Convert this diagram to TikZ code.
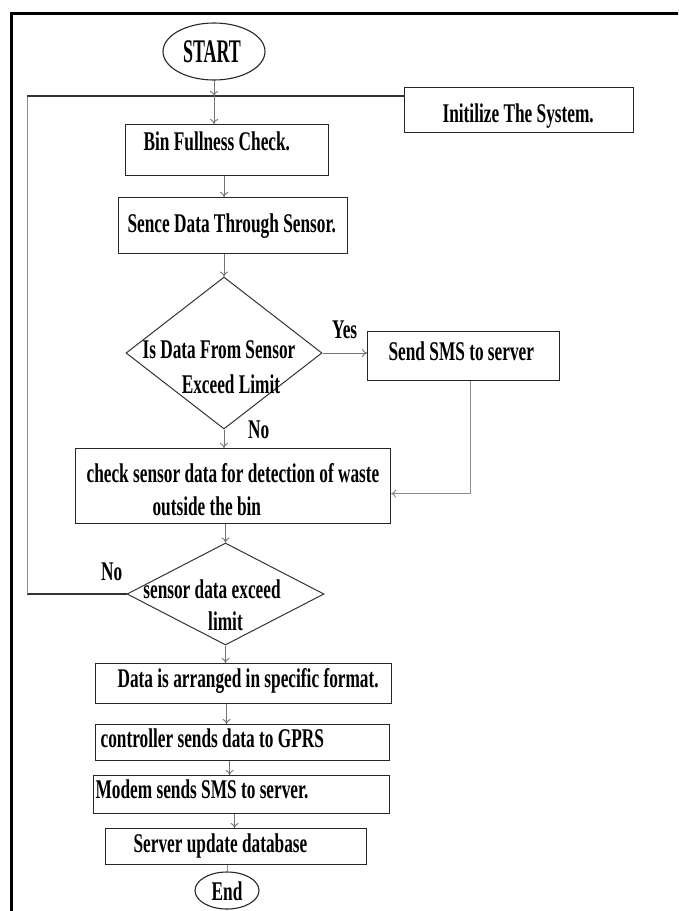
\documentclass[tikz,border=0pt]{standalone}
\usepackage{fontspec}
\newfontfamily\flowfont{Liberation Serif}[FakeStretch=0.64]
\usetikzlibrary{shapes.geometric,arrows.meta,calc}
\tikzset{
  ffont/.style={font=\flowfont\bfseries\fontsize{27}{33}\selectfont},
  boxnode/.style={draw=black!85, line width=1.2pt, anchor=north west, inner sep=0pt, ffont, text=black},
  termnode/.style={ellipse, draw=black!85, line width=1.1pt, inner sep=0pt, text height=0pt, text depth=0pt, ffont, text=black},
  decnode/.style={diamond, draw=black!80, line width=1pt, inner sep=0pt, text height=0pt, text depth=0pt, ffont, text=black},
  lbl/.style={anchor=base west, inner sep=0pt, ffont, text=black},
  conn/.style={draw=black!55, line width=0.9pt, -{To[length=5pt,width=8pt]}},
  plainline/.style={draw=black!80, line width=1.1pt},
  greyline/.style={draw=black!45, line width=1pt},
}
\begin{document}
\begin{tikzpicture}[x=1pt,y=-1pt]
\useasboundingbox (0,0) rectangle (678,911);
\clip (0,0) rectangle (678,911);
% outer frame
\draw[line width=3pt] (11,930) -- (11,13.5) -- (700,13.5);

% terminals
\node[termnode, minimum width=102pt, minimum height=57pt] (start) at (214,51.5)
  {\makebox[0pt]{\raisebox{-10.5pt}{\hspace*{-4pt}\scalebox{0.85}[1]{\fontsize{33}{36}\selectfont START}}}};
\node[termnode, minimum width=64pt, minimum height=37pt] (end) at (227,890.5)
  {\makebox[0pt]{\raisebox{-9.5pt}{End}}};

% process boxes
\node[boxnode, text height=35pt, text depth=10pt] (init) at (404,87)
  {\makebox[229pt][l]{\hspace*{38pt}Initilize The System.}};
\node[boxnode, text height=26pt, text depth=25pt] (bin) at (125,124)
  {\makebox[203pt][l]{\hspace*{18pt}Bin Fullness Check.}};
\node[boxnode, text height=35pt, text depth=21pt] (sence) at (118,197)
  {\makebox[229pt][l]{\hspace*{9pt}Sence Data Through Sensor.}};
\node[boxnode, text height=29pt, text depth=20pt] (send) at (367,331)
  {\makebox[192pt][l]{\hspace*{21pt}Send SMS to server}};
\node[boxnode, text height=34pt, text depth=41pt] (check) at (75,448)
  {\makebox[315pt][l]{\hspace*{11pt}\begin{tabular}[t]{@{}l@{}}check sensor data for detection of waste\\\hspace*{66pt}outside the bin\end{tabular}}};
\node[boxnode, text height=24pt, text depth=16pt] (data) at (95,663)
  {\makebox[296pt][l]{\hspace*{22pt}Data is arranged in specific format.}};
\node[boxnode, text height=23pt, text depth=13pt] (ctrl) at (95,724)
  {\makebox[294pt][l]{\hspace*{5pt}controller sends data to GPRS}};
\node[boxnode, text height=23pt, text depth=15pt] (modem) at (93,775)
  {\makebox[296pt][l]{\hspace*{2pt}Modem sends SMS to server.}};
\node[boxnode, text height=24pt, text depth=12pt] (server) at (105,828)
  {\makebox[261pt][l]{\hspace*{28pt}Server update database}};

% decisions
\node[decnode, minimum width=196pt, minimum height=152pt] (d1) at (224,353)
  {\makebox[0pt]{\raisebox{-5pt}{\begin{tabular}[t]{@{}c@{}}Is Data From Sensor\hspace*{10pt}\\[2pt]\hspace*{14pt}Exceed Limit\end{tabular}}}};
\node[decnode, minimum width=197pt, minimum height=102pt] (d2) at (225.5,594)
  {\makebox[0pt]{\raisebox{-4pt}{\begin{tabular}[t]{@{}c@{}}sensor data exceed\hspace*{27pt}\\[-1pt]limit\end{tabular}}}};

% labels
\node[lbl] (yes) at (332,338) {Yes};
\node[lbl] (no1) at (248,438) {No};
\node[lbl] (no2) at (101,580) {No};

% junction and loop coordinates
\coordinate (j) at (214,96);
\coordinate (lt) at (27,96);
\coordinate (lb) at (27,594);

% connectors
\draw[plainline] (init.west |- j) -- (j);
\draw[plainline] (d2.west) -- (lb);
\draw[greyline] (lb) -- (lt);
\draw[plainline] (lt) -- (j);
\draw[conn] (start.south) -- (j);
\draw[conn] (j) -- (j |- bin.north);
\draw[conn] ([xshift=-3pt]bin.south) -- ([xshift=-3pt]bin.south |- sence.north);
\draw[conn] (d1.north |- sence.south) -- (d1.north);
\draw[conn] (d1.east) -- (d1.east -| send.west);
\draw[conn] (d1.south) -- (d1.south |- check.north);
\draw[greyline, -{To[length=5pt,width=8pt]}] ([xshift=7pt]send.south) |- ([yshift=-7.5pt]check.east);
\draw[conn] (d2.north |- check.south) -- (d2.north);
\draw[conn] (d2.south) -- (d2.south |- data.north);
\draw[conn] ([xshift=-17pt]data.south) -- ([xshift=-17pt]data.south |- ctrl.north);
\draw[conn] ([xshift=-13pt]ctrl.south) -- ([xshift=-13pt]ctrl.south |- modem.north);
\draw[conn] ([xshift=-7pt]modem.south) -- ([xshift=-7pt]modem.south |- server.north);
\draw[greyline] (end.north |- server.south) -- (end.north);
\end{tikzpicture}
\end{document}
